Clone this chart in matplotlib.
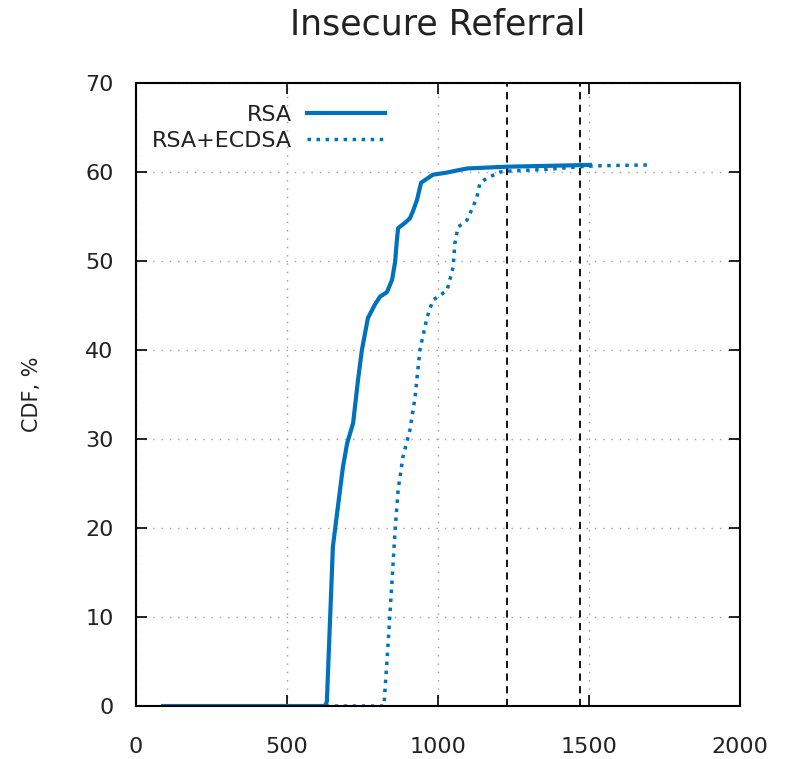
import numpy as np
import matplotlib
matplotlib.use("Agg")
import matplotlib.pyplot as plt

# CDF of handshake sizes (bytes) for insecure referral
rsa_x = [90, 626, 632, 652, 666, 685, 699, 719, 735, 748, 768, 791, 808, 831,
         848, 858, 864, 868, 891, 907, 917, 930, 944, 983, 1023, 1096, 1228,
         1371, 1503]
rsa_y = [0, 0, 0.5, 17.9, 21.7, 26.8, 29.5, 31.8, 36.6, 40.0, 43.6, 45.1, 46.0,
         46.5, 47.9, 49.9, 52.4, 53.7, 54.3, 54.8, 55.6, 56.8, 58.8, 59.7, 59.9,
         60.4, 60.6, 60.7, 60.8]

ecdsa_x = [90, 821, 834, 848, 858, 868, 884, 907, 924, 940, 964, 983, 1030, 1050,
           1056, 1066, 1096, 1116, 1129, 1139, 1162, 1205, 1228, 1361, 1470,
           1526, 1702]
ecdsa_y = [0, 0, 6.6, 14.2, 19.8, 24.3, 28.0, 31.0, 34.7, 40.0, 43.7, 45.6, 46.7,
           49.3, 52.0, 53.8, 54.6, 56.1, 57.2, 58.8, 59.3, 60.0, 60.1, 60.3, 60.6,
           60.7, 60.8]

# reference limits drawn as dashed verticals
limits = [1228, 1470]

labels = ["RSA", "RSA+ECDSA"]
xticks = [0, 500, 1000, 1500, 2000]
yticks = [0, 10, 20, 30, 40, 50, 60, 70]

blue = "#0072bd"
ink = "#222222"

fig = plt.figure(figsize=(7.86, 7.59), dpi=100)
ax = fig.add_axes([0.173, 0.0698, 0.7685, 0.8208])

ax.grid(True, color="#a0a0a0", linestyle=(0, (1, 5)), linewidth=1.0)
ax.set_axisbelow(True)

for xv in limits:
    ax.axvline(xv, color="black", linestyle=(0, (4, 3)), linewidth=1.3)

ax.plot(rsa_x, rsa_y, color=blue, linewidth=3.0, label=labels[0])
ax.plot(ecdsa_x, ecdsa_y, color=blue, linewidth=2.5,
        linestyle=(0, (1, 1.6)), dash_capstyle="butt", label=labels[1])

ax.set_xlim(0, 2000)
ax.set_ylim(0, 70)
ax.set_xticks(xticks)
ax.set_yticks(yticks)

ax.tick_params(direction="in", length=8, width=1.2, top=True, right=True,
               labelsize=16, color="black", labelcolor=ink)
ax.tick_params(axis="x", pad=22)
ax.tick_params(axis="y", pad=16)
for sp in ax.spines.values():
    sp.set_linewidth(1.5)

ax.set_ylabel("CDF, %", fontsize=15, color=ink)
ax.yaxis.set_label_coords(-0.155, 0.5)
ax.set_title("Insecure Referral", fontsize=25, pad=35, color=ink)

ax.legend(loc="upper right", bbox_to_anchor=(0.412, 0.965), frameon=False,
          markerfirst=False, fontsize=16, handlelength=3.5, handletextpad=0.68,
          labelspacing=0.27, borderpad=0, borderaxespad=0, labelcolor=ink)

fig.savefig("out.png", dpi=100)
